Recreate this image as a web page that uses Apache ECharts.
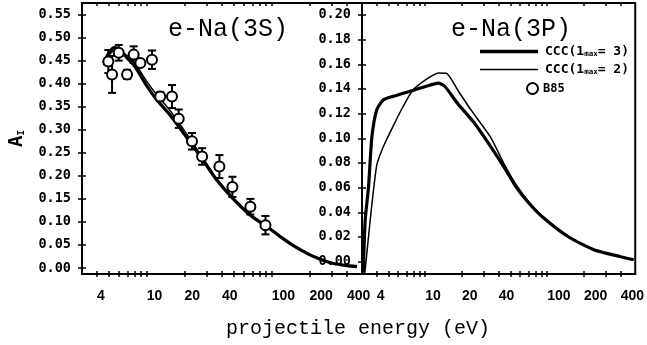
<!DOCTYPE html>
<html>
<head>
<meta charset="utf-8">
<script src="https://cdn.jsdelivr.net/npm/echarts@6/dist/echarts.min.js"></script>
<style>html,body{margin:0;padding:0;background:#fff}#c{width:647px;height:345px}</style>
</head>
<body>
<div id="c"></div>
<script>
// ---------- data ----------
const energyTickValues = [4,5,6,7,8,9,10,20,30,40,50,60,70,80,90,100,200,300,400];
const energyLabelValues = [4,10,20,40,100,200,400];
const leftTickValues = [0,0.05,0.10,0.15,0.20,0.25,0.30,0.35,0.40,0.45,0.50,0.55];
const rightTickValues = [0,0.02,0.04,0.06,0.08,0.10,0.12,0.14,0.16,0.18,0.20];

// e-Na(3S) panel
const s3Energy = [4.5,5.0,5.5,6.0,7.0,8.0,10,12,15,20,27,36,50,67,80,100,120,150,200,250,300,400,480];
const s3Ccc3   = [0.445,0.468,0.478,0.474,0.455,0.438,0.395,0.365,0.335,0.290,0.241,0.192,0.148,0.115,0.100,0.082,0.066,0.048,0.029,0.018,0.011,0.005,0.003];
const s3Ccc2   = [0.440,0.462,0.472,0.472,0.460,0.445,0.405,0.376,0.345,0.298,0.246,0.195,0.150,0.116,0.101,0.083,0.067,0.049,0.030,0.019,0.012,0.006,0.004];
const b85Energy = [4.92,5.27,5.96,6.95,7.85,8.88,11.0,12.8,15.9,18.0,23.0,27.7,38.1,48.4,67.4,89];
const b85Value  = [0.448,0.420,0.467,0.420,0.463,0.445,0.452,0.372,0.372,0.324,0.275,0.242,0.220,0.176,0.133,0.093];
const b85Error  = [0.025,0.040,0.017,0.010,0.018,0.005,0.020,0.010,0.025,0.020,0.018,0.018,0.025,0.022,0.017,0.020];

// e-Na(3P) panel
const p3EnergyA = [3.10,3.22,3.43,3.65,4.0,4.52,5.43,7.39,10.05,12.8,14.5,18.5,25,34,44,56,70,92,150,244,400,511];
const p3Ccc3    = [-0.009,0.034,0.061,0.101,0.123,0.131,0.134,0.138,0.142,0.1447,0.142,0.128,0.113,0.094,0.077,0.060,0.048,0.036,0.020,0.0095,0.004,0.0015];
const p3EnergyB = [3.20,3.54,4.0,4.52,5.43,6.6,7.9,10.05,12.8,14.9,18.5,23.7,34.3,43.9,56,70,92,150,244,400,511];
const p3Ccc2    = [-0.009,0.034,0.078,0.093,0.1095,0.126,0.139,0.1474,0.153,0.1528,0.139,0.123,0.101,0.080,0.062,0.049,0.0365,0.020,0.0095,0.004,0.0015];

const seriesNames = ['CCC(1max= 3)','CCC(1max= 2)','B85'];

// ---------- chart ----------
const pair = (xs, ys) => xs.map((x, i) => [x, ys[i]]);
const chart = echarts.init(document.getElementById('c'), null, {renderer: 'canvas'});
const X_MIN = 3.03, X_MAX = 527;
const labelFont = {fontFamily: 'Liberation Sans', fontWeight: 'bold', fontSize: 14, color: '#000'};
const yLabelFont = {fontFamily: 'DejaVu Sans Mono', fontWeight: 'bold', fontSize: 13.5, color: '#000'};

function xMain(grid) {
  return {
    type: 'log', logBase: 10, gridIndex: grid, min: X_MIN, max: X_MAX, position: 'bottom',
    axisLine: {show: true, onZero: false, lineStyle: {color: '#000', width: 2}},
    axisTick: {show: true, inside: false, length: 3, lineStyle: {color: '#000', width: 1.5}, customValues: energyTickValues},
    minorTick: {show: false}, splitLine: {show: false},
    axisLabel: Object.assign({show: true, margin: 15, align: 'left', customValues: energyLabelValues,
      formatter: v => String(Math.round(v))}, labelFont)
  };
}
function xAux(grid, pos) {
  return {
    type: 'log', logBase: 10, gridIndex: grid, min: X_MIN, max: X_MAX, position: pos,
    axisLine: {show: false, onZero: false},
    axisTick: {show: true, inside: true, length: 3, lineStyle: {color: '#000', width: 1.5}, customValues: energyTickValues},
    splitLine: {show: false}, axisLabel: {show: false}
  };
}
function yAxisDef(grid, min, max, ticks, digits, main) {
  return {
    type: 'value', gridIndex: grid, min: min, max: max, position: 'left',
    axisLine: {show: main, onZero: false, lineStyle: {color: '#000', width: 2}},
    axisTick: {show: true, inside: !main, length: 4, lineStyle: {color: '#000', width: 1.5}, customValues: ticks},
    splitLine: {show: false},
    axisLabel: Object.assign({show: main, margin: 11, customValues: ticks, formatter: v => v.toFixed(digits)}, yLabelFont)
  };
}

const yMainLeft = yAxisDef(0, -0.013, 0.575, leftTickValues, 2, true);
yMainLeft.name = '{a|A}{s|I}';
yMainLeft.nameLocation = 'middle';
yMainLeft.nameRotate = 90;
yMainLeft.nameGap = 55;
yMainLeft.nameTextStyle = {rich: {
  a: {fontFamily: 'DejaVu Sans Mono', fontWeight: 'bold', fontSize: 19, color: '#000'},
  s: {fontFamily: 'DejaVu Sans Mono', fontWeight: 'bold', fontSize: 9, color: '#000', padding: [8, 0, 0, 0]}
}};

const legendText = {fontFamily: 'DejaVu Sans Mono', fontWeight: 'bold', fontSize: 13, color: '#000', padding: [0, 0, 0, 2],
  rich: {s: {fontFamily: 'DejaVu Sans Mono', fontWeight: 'bold', fontSize: 7.5, color: '#000', padding: [6, 0, 0, 0]}}};

const option = {
  animation: false,
  backgroundColor: '#fff',
  grid: [
    {left: 82, top: 3, width: 280, height: 271, show: true, borderColor: '#000', borderWidth: 2, backgroundColor: 'transparent'},
    {left: 362, top: 3, width: 280, height: 271, show: true, borderColor: '#000', borderWidth: 2, backgroundColor: 'transparent'}
  ],
  xAxis: [xMain(0), xMain(1), xAux(0, 'bottom'), xAux(1, 'bottom'), xAux(0, 'top'), xAux(1, 'top')],
  yAxis: [
    yMainLeft,
    yAxisDef(1, -0.010, 0.2097, rightTickValues, 2, true),
    yAxisDef(0, -0.013, 0.575, leftTickValues, 2, false),
    yAxisDef(1, -0.010, 0.2097, rightTickValues, 2, false)
  ],
  legend: [
    {
      data: [{name: seriesNames[0], icon: 'rect'}], left: 475, top: 40,
      itemWidth: 58, itemHeight: 3.5,
      formatter: n => n.replace('max', '{s|max}'), textStyle: legendText
    },
    {
      data: [{name: seriesNames[1], icon: 'rect'}], left: 475, top: 58,
      itemWidth: 58, itemHeight: 1.5,
      formatter: n => n.replace('max', '{s|max}'), textStyle: legendText
    },
    {
      data: [seriesNames[2]], left: 521, top: 77,
      itemWidth: 11, itemHeight: 11,
      textStyle: {fontFamily: 'DejaVu Sans Mono', fontWeight: 'bold', fontSize: 12, color: '#000'}
    }
  ],
  graphic: [
    {type: 'text', x: 228, y: 29, style: {text: 'e-Na(3S)', font: '25px "Liberation Mono"', fill: '#000', align: 'center', verticalAlign: 'middle', textAlign: 'center', textVerticalAlign: 'middle'}},
    {type: 'text', x: 511, y: 29, style: {text: 'e-Na(3P)', font: '25px "Liberation Mono"', fill: '#000', align: 'center', verticalAlign: 'middle', textAlign: 'center', textVerticalAlign: 'middle'}},
    {type: 'text', x: 358, y: 329, style: {text: 'projectile energy (eV)', font: '20px "Liberation Mono"', fill: '#000', align: 'center', verticalAlign: 'middle', textAlign: 'center', textVerticalAlign: 'middle'}}
  ],
  series: [
    {name: seriesNames[0], type: 'line', xAxisIndex: 0, yAxisIndex: 0, data: pair(s3Energy, s3Ccc3), showSymbol: false, symbol: 'none', smooth: 0.2,
      lineStyle: {color: '#000', width: 3.2}, itemStyle: {color: '#000'}, z: 3},
    {name: seriesNames[1], type: 'line', xAxisIndex: 0, yAxisIndex: 0, data: pair(s3Energy, s3Ccc2), showSymbol: false, symbol: 'none', smooth: 0.2,
      lineStyle: {color: '#000', width: 1.5}, itemStyle: {color: '#000'}, z: 3},
    {name: seriesNames[0], type: 'line', xAxisIndex: 1, yAxisIndex: 1, data: pair(p3EnergyA, p3Ccc3), showSymbol: false, symbol: 'none', smooth: 0.2,
      lineStyle: {color: '#000', width: 3.2}, itemStyle: {color: '#000'}, z: 3},
    {name: seriesNames[1], type: 'line', xAxisIndex: 1, yAxisIndex: 1, data: pair(p3EnergyB, p3Ccc2), showSymbol: false, symbol: 'none', smooth: 0.2,
      lineStyle: {color: '#000', width: 1.5}, itemStyle: {color: '#000'}, z: 3},
    {type: 'custom', xAxisIndex: 0, yAxisIndex: 0, z: 4,
      data: b85Energy.map((e, i) => [e, b85Value[i] - b85Error[i], b85Value[i] + b85Error[i]]),
      renderItem: function (params, api) {
        const lo = api.coord([api.value(0), api.value(1)]);
        const hi = api.coord([api.value(0), api.value(2)]);
        const w = 4;
        const st = {stroke: '#000', lineWidth: 2};
        return {type: 'group', children: [
          {type: 'line', shape: {x1: lo[0], y1: lo[1], x2: hi[0], y2: hi[1]}, style: st},
          {type: 'line', shape: {x1: hi[0] - w, y1: hi[1], x2: hi[0] + w, y2: hi[1]}, style: st},
          {type: 'line', shape: {x1: lo[0] - w, y1: lo[1], x2: lo[0] + w, y2: lo[1]}, style: st}
        ]};
      }
    },
    {name: seriesNames[2], type: 'scatter', xAxisIndex: 0, yAxisIndex: 0, z: 5, data: pair(b85Energy, b85Value),
      symbol: 'circle', symbolSize: 10, itemStyle: {color: '#fff', borderColor: '#000', borderWidth: 2, opacity: 1}}
  ]
};
chart.setOption(option);
</script>
</body>
</html>
